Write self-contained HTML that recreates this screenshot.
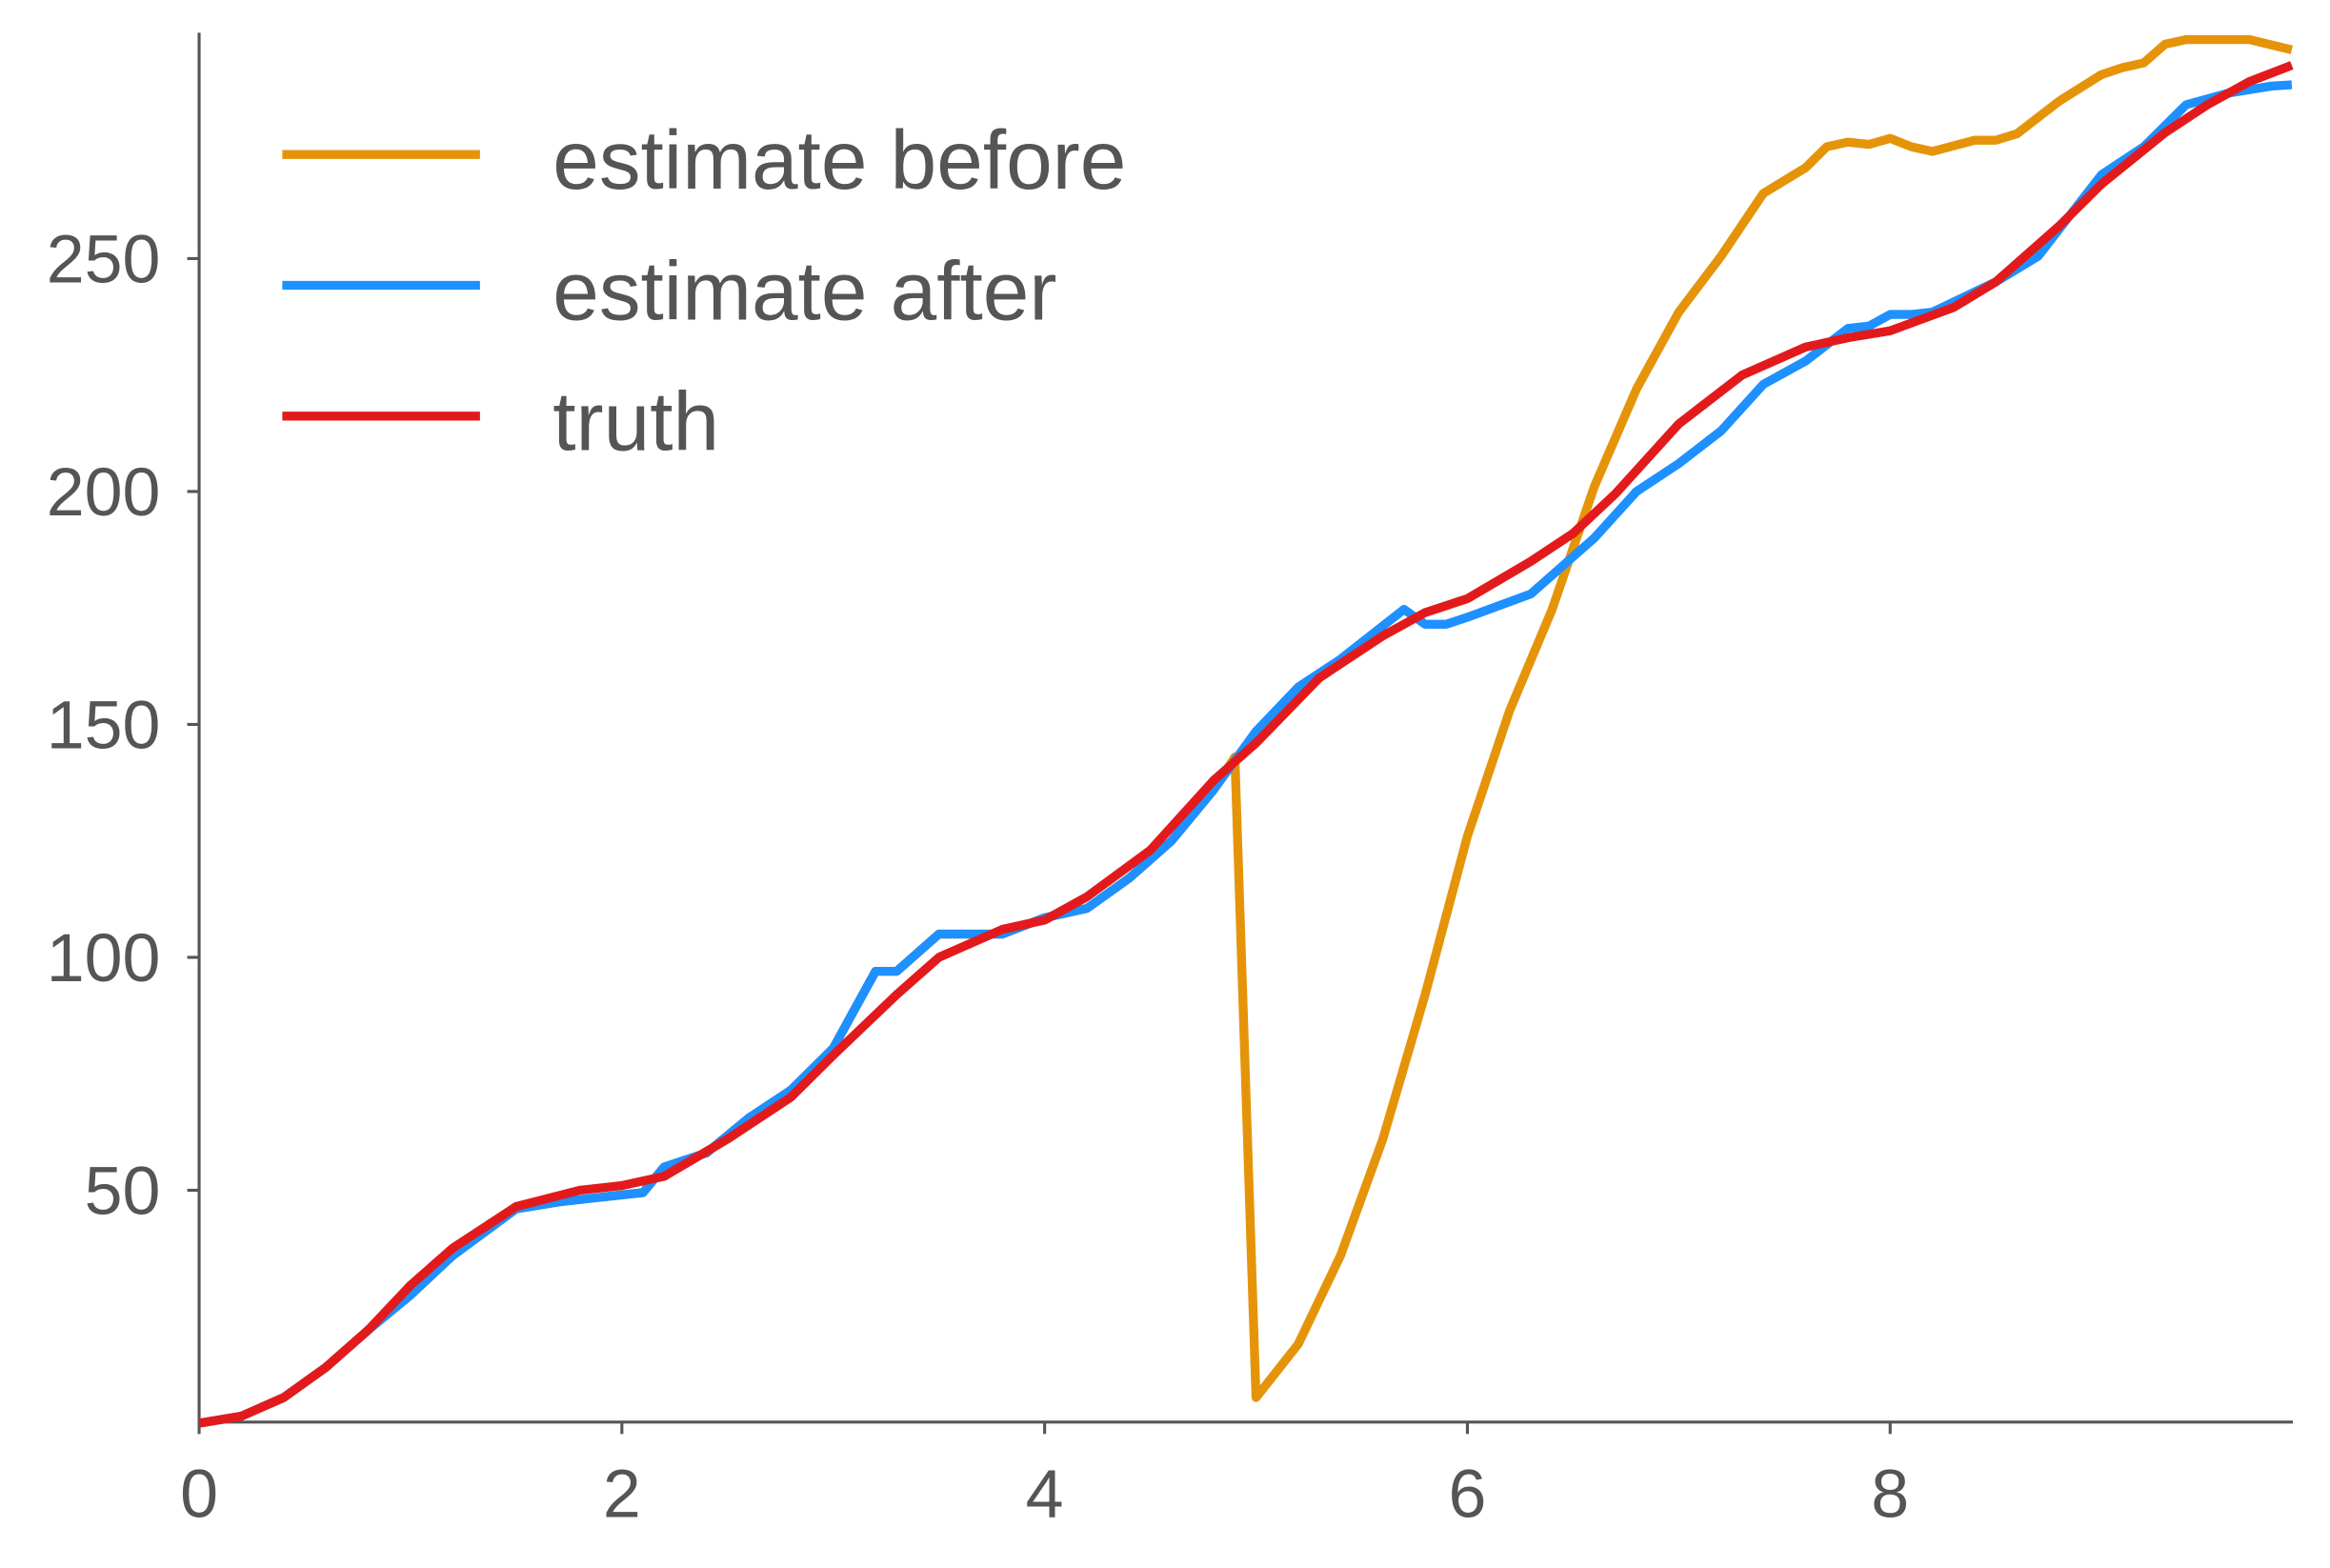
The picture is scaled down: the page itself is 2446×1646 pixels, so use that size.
<!DOCTYPE html>
<html><head><meta charset="utf-8"><style>
html,body{margin:0;padding:0;background:#fff;}
svg{display:block;}
text{font-family:"Liberation Sans",sans-serif;fill:#555;}
</style></head><body>
<svg id="chart" width="2446" height="1646" viewBox="0 0 1568 1055.2" preserveAspectRatio="none" xmlns="http://www.w3.org/2000/svg">
<g id="axes"></g>
<g id="series"></g>
<g id="legend"></g>
</svg>
<script>
const xTicks=[0,2,4,6,8];
const yTicks=[50,100,150,200,250];
const truthX=[0,0.2,0.4,0.6,0.8,1.0,1.2,1.5,1.8,2.0,2.2,2.5,2.8,3.0,3.3,3.5,3.8,4.0,4.2,4.5,4.8,5.0,5.3,5.6,5.8,6.0,6.3,6.5,6.7,7.0,7.3,7.6,7.8,8.0,8.3,8.5,8.8,9.0,9.3,9.5,9.7,9.9];
const truthY=[0,1.5,5.5,12,20,29.6,37.6,46.5,50,51,53,61,70,79,92,100,106,108,113,123,138,146,160,169,174,177,185,191,199.5,214.5,225,231,233,234.5,239.5,245,257,266,277,283,288,291.5];
const afterX=[0,0.2,0.4,0.6,0.8,1.0,1.2,1.5,1.7,1.8,2.1,2.2,2.4,2.6,2.8,3.0,3.2,3.3,3.5,3.6,3.8,4.0,4.2,4.4,4.6,4.8,5.0,5.2,5.4,5.7,5.8,5.9,6.0,6.3,6.5,6.6,6.8,7.0,7.2,7.4,7.6,7.8,7.9,8.0,8.1,8.2,8.5,8.7,9.0,9.2,9.4,9.6,9.8,9.9];
const afterY=[0,1.5,5.5,12,20,27.5,36,46,47.5,48,49.5,55,58,65.5,71.5,80.5,97,97,105,105,105,108.5,110.5,117,125,136,148.5,158,164,174.7,171.5,171.5,173,178,186,190,200,206,213,223,228,235,235.5,238,238,238.5,245,250.5,268,274,283,285.5,287,287.3];
const beforeX=[0,0.2,0.4,0.6,0.8,1.0,1.2,1.5,1.7,1.8,2.1,2.2,2.4,2.6,2.8,3.0,3.2,3.3,3.5,3.6,3.8,4.0,4.2,4.4,4.6,4.8,4.9,5.0,5.2,5.4,5.6,5.8,6.0,6.2,6.4,6.6,6.8,7.0,7.2,7.4,7.6,7.7,7.8,7.9,8.0,8.1,8.2,8.4,8.5,8.6,8.8,9.0,9.1,9.2,9.3,9.4,9.5,9.7,9.9];
const beforeY=[0,1.5,5.5,12,20,27.5,36,46,47.5,48,49.5,55,58,65.5,71.5,80.5,97,97,105,105,105,108.5,110.5,117,125,136,143,5.5,17,36,61,92,126,153,174.6,201,222,238.5,250.5,264,269.5,274,275,274.5,275.8,274,273,275.4,275.4,276.8,283.8,289.5,291,292,296,297,297,297,294.8];
const NS="http://www.w3.org/2000/svg";
const X0=134,XU=142.25,Y0=957.75,YU=3.135;
const sx=v=>X0+v*XU, sy=v=>Y0-v*YU;
function mk(tag,attrs,parent){const e=document.createElementNS(NS,tag);for(const k in attrs)e.setAttribute(k,attrs[k]);parent.appendChild(e);return e;}
const axes=document.getElementById('axes');
let a=mk('line',{x1:134,y1:22,x2:134,y2:957,stroke:'#555','stroke-width':2},axes);


a=mk('line',{x1:133,y1:957,x2:1543,y2:957,stroke:'#555','stroke-width':2},axes);


xTicks.forEach(v=>{
 const t=mk('line',{x1:sx(v),y1:957,x2:sx(v),y2:965,stroke:'#555','stroke-width':2},axes);
 
 
 const l=mk('text',{x:sx(v),y:1021,'text-anchor':'middle','font-size':46},axes);
 l.textContent=v;
 
 
});
yTicks.forEach(v=>{
 const t=mk('line',{x1:126,y1:sy(v),x2:134,y2:sy(v),stroke:'#555','stroke-width':2},axes);
 
 
 const l=mk('text',{x:108,y:sy(v)+16,'text-anchor':'end','font-size':46},axes);
 l.textContent=v;
 
 
});
const ser=document.getElementById('series');
function line(xs,ys,c,name){
 const p=mk('polyline',{points:xs.map((x,i)=>sx(x)+','+sy(ys[i])).join(' '),fill:'none',stroke:c,'stroke-width':6,'stroke-linejoin':'round'},ser);
 
 
}
line(beforeX,beforeY,'#E5940A','estimate-before-line');
line(afterX,afterY,'#1E90FF','estimate-after-line');
line(truthX,truthY,'#E31A1C','truth-line');
const leg=document.getElementById('legend');
[['estimate before','#E5940A',104],['estimate after','#1E90FF',192],['truth','#E31A1C',280]].forEach(([n,c,y])=>{
 const l=mk('line',{x1:190,y1:y,x2:323,y2:y,stroke:c,'stroke-width':6},leg);
 
 
 const t=mk('text',{x:372,y:y+23,'font-size':56},leg);
 t.textContent=n;
 
 
});
</script>
</body></html>
